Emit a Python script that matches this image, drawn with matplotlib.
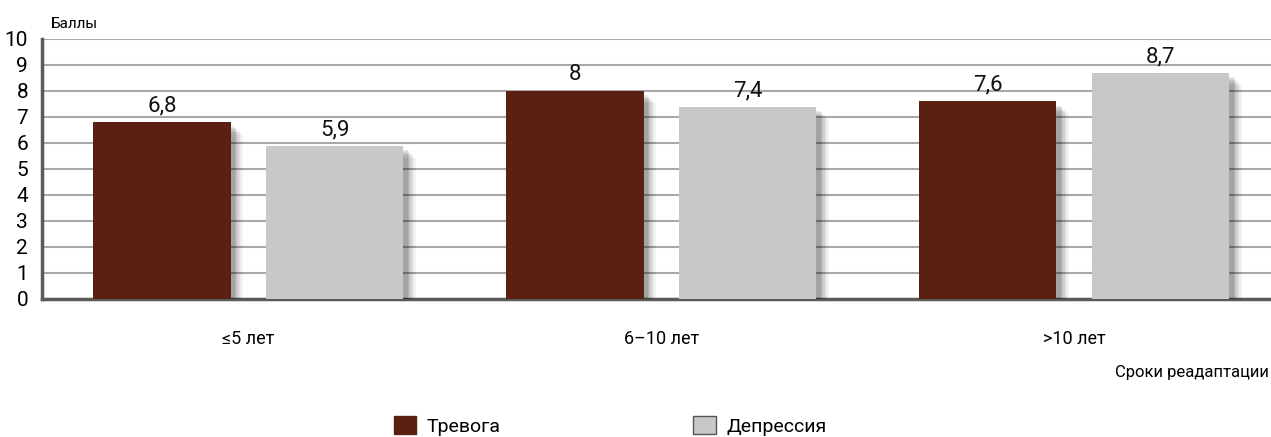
import matplotlib.pyplot as plt
import matplotlib.patheffects as pe
from matplotlib.patches import Patch
import numpy as np

plt.rcParams['font.family'] = ['Roboto', 'DejaVu Sans']

# сроки реадаптации и средние баллы по группам
periods = ['≤5 лет', '6–10 лет', '>10 лет']
anxiety = [6.8, 8, 7.6]
depression = [5.9, 7.4, 8.7]
series_names = ['Тревога', 'Депрессия']

c_anx = '#5C2012'
c_dep = '#C8C8C8'

fig = plt.figure(figsize=(12.71, 4.37), dpi=100)
ax = fig.add_axes([0.033, 0.3158, 0.967, 0.595])

x = np.arange(len(periods))
w = 0.332
off = 0.2094

# мягкая тень справа-снизу от столбцов
shadow = [pe.SimplePatchShadow(offset=(d, -d), shadow_rgbFace='k', alpha=a)
          for d, a in [(9, 0.03), (8, 0.04), (7, 0.05), (6, 0.06),
                       (5, 0.07), (4, 0.08), (3, 0.08)]]
shadow.append(pe.Normal())

b1 = ax.bar(x - off, anxiety, w, color=c_anx, zorder=3, path_effects=shadow)
b2 = ax.bar(x + off, depression, w, color=c_dep, zorder=3, path_effects=shadow)

for bars, vals in [(b1, anxiety), (b2, depression)]:
    for r, v in zip(bars, vals):
        ax.annotate(f'{v:g}'.replace('.', ','),
                    (r.get_x() + r.get_width() / 2, v),
                    xytext=(0, 4), textcoords='offset points',
                    ha='center', va='bottom', fontsize=16, color='#111')

ax.set_xlim(-0.5, 2.476)
ax.set_ylim(0, 10)
ax.set_yticks(range(0, 11))
ax.set_xticks(x)
ax.set_xticklabels(periods, fontsize=13)
ax.tick_params(axis='x', length=0, pad=22)
ax.tick_params(axis='y', length=0, pad=10, labelsize=15)
ax.yaxis.grid(True, color='#A8A8A8', linewidth=1.5, zorder=0)
ax.set_axisbelow(True)

for s in ['top', 'right']:
    ax.spines[s].set_visible(False)
for s in ['left', 'bottom']:
    ax.spines[s].set_color('#5A5A5A')
    ax.spines[s].set_linewidth(2.5)

fig.text(0.04, 0.945, 'Баллы', fontsize=11, ha='left', va='center')
fig.text(0.998, 0.148, 'Сроки реадаптации', fontsize=12, ha='right', va='center')

handles = [Patch(facecolor=c_anx, edgecolor=c_anx),
           Patch(facecolor=c_dep, edgecolor='#555555', linewidth=1)]
fig.legend(handles, series_names, loc='lower left', bbox_to_anchor=(0.296, -0.037),
           ncol=2, frameon=False, fontsize=14, handlelength=1.15, handleheight=1.1,
           handletextpad=0.55, columnspacing=9.9)

fig.savefig('out.png', dpi=100)
